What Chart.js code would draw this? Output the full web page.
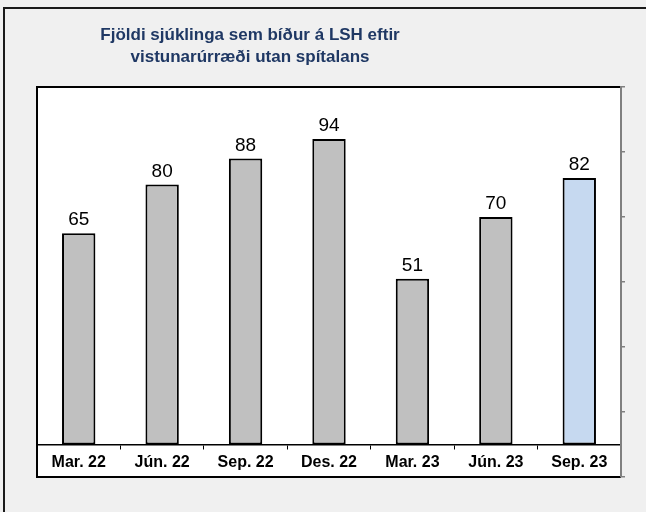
<!DOCTYPE html>
<html lang="is">
<head>
<meta charset="utf-8">
<script src="https://cdn.jsdelivr.net/npm/chart.js@4/dist/chart.umd.min.js"></script>
<style>
  html, body { margin: 0; padding: 0; background: #f0f0f0; }
  #wrap { position: relative; width: 646px; height: 512px; overflow: hidden; background: #f0f0f0; }
  #frame { position: absolute; left: 3px; top: 7px; right: -10px; bottom: -10px;
           border-left: 2px solid #1a1a1a; border-top: 2px solid #1a1a1a; }
  #title { position: absolute; left: 0; top: 24px; width: 500px; text-align: center;
           font-family: "Liberation Sans", Arial, sans-serif; font-weight: bold;
           font-size: 17px; line-height: 22px; color: #1f3864; }
  canvas { position: absolute; left: 0; top: 0; }
</style>
</head>
<body>
<div id="wrap">
  <div id="frame"></div>
  <canvas id="c" width="646" height="512"></canvas>
  <div id="title">Fjöldi sjúklinga sem bíður á LSH eftir<br>vistunarúrræði utan spítalans</div>
</div>
<script>
// Quarterly counts of patients waiting at LSH for a placement outside the hospital
const categories = ['Mar. 22', 'Jún. 22', 'Sep. 22', 'Des. 22', 'Mar. 23', 'Jún. 23', 'Sep. 23'];
const patients = [65, 80, 88, 94, 51, 70, 82];
const barColors = ['#c0c0c0', '#c0c0c0', '#c0c0c0', '#c0c0c0', '#c0c0c0', '#c0c0c0', '#c6d9f0'];
const rightTicks = [-10, 10, 30, 50, 70, 90, 110];

// White plot panel with a black frame (right edge is the value axis line)
const plotPanel = {
  id: 'plotPanel',
  beforeDraw(chart) {
    const { ctx, chartArea: a } = chart;
    ctx.save();
    ctx.fillStyle = '#ffffff';
    ctx.fillRect(a.left, a.top, a.right - a.left, a.bottom - a.top);
    ctx.strokeStyle = '#000000';
    ctx.lineWidth = 2;
    ctx.beginPath();
    ctx.moveTo(a.right, a.top);
    ctx.lineTo(a.left, a.top);
    ctx.lineTo(a.left, a.bottom);
    ctx.lineTo(a.right, a.bottom);
    ctx.stroke();
    ctx.restore();
  }
};

// Value printed above each bar
const valueLabels = {
  id: 'valueLabels',
  afterDatasetsDraw(chart) {
    const { ctx } = chart;
    const meta = chart.getDatasetMeta(0);
    const data = chart.data.datasets[0].data;
    ctx.save();
    ctx.font = '19px "Liberation Sans", Arial, sans-serif';
    ctx.fillStyle = '#000000';
    ctx.textAlign = 'center';
    ctx.textBaseline = 'alphabetic';
    meta.data.forEach((bar, i) => {
      ctx.fillText(String(data[i]), bar.x, bar.y - 8);
    });
    ctx.restore();
  }
};

new Chart(document.getElementById('c'), {
  type: 'bar',
  data: {
    labels: categories,
    datasets: [{
      data: patients,
      backgroundColor: barColors,
      borderColor: '#000000',
      borderWidth: 2,
      borderSkipped: false,
      barPercentage: 0.40,
      categoryPercentage: 1.0
    }]
  },
  options: {
    responsive: false,
    animation: false,
    devicePixelRatio: 1,
    layout: { padding: { left: 37, top: 87, bottom: 35, right: 21 } },
    plugins: {
      legend: { display: false },
      title: { display: false },
      tooltip: { enabled: false }
    },
    scales: {
      x: {
        position: { y: 0 },
        offset: true,
        grid: {
          offset: true,
          drawOnChartArea: false,
          drawTicks: true,
          tickLength: 4,
          color: '#000000',
          lineWidth: 1
        },
        border: { display: true, color: '#000000', width: 1.5 },
        ticks: {
          color: '#000000',
          padding: 4,
          font: { family: '"Liberation Sans", Arial, sans-serif', size: 16, weight: 'bold' }
        }
      },
      y: {
        position: 'right',
        min: -10,
        max: 110,
        afterBuildTicks(scale) {
          scale.ticks = rightTicks.map(v => ({ value: v }));
        },
        afterFit(scale) { scale.width = 4; },
        grid: {
          drawOnChartArea: false,
          drawTicks: true,
          tickLength: 4,
          color: '#808080',
          lineWidth: 1.5
        },
        border: { display: true, color: '#808080', width: 2 },
        ticks: { display: false }
      }
    }
  },
  plugins: [plotPanel, valueLabels]
});
</script>
</body>
</html>
